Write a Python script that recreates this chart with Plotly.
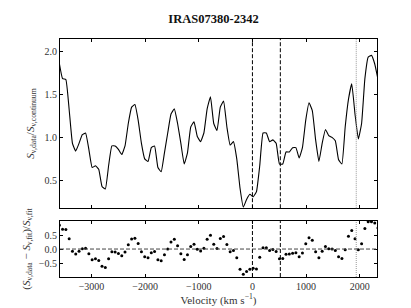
import plotly.graph_objects as go

# ---- data ----
velocity = [-3600, -3539, -3478, -3416, -3355, -3294, -3232, -3171, -3110, -3049,
            -2988, -2926, -2865, -2804, -2742, -2681, -2620, -2559, -2498, -2436,
            -2375, -2314, -2252, -2191, -2130, -2069, -2008, -1946, -1885, -1824,
            -1762, -1701, -1640, -1579, -1518, -1456, -1395, -1334, -1272, -1211,
            -1150, -1089, -1028, -966, -905, -844, -782, -721, -660, -599,
            -538, -476, -415, -354, -292, -231, -170, -109, -48, 14,
            75, 136, 198, 259, 320, 381, 442, 504, 565, 626,
            688, 749, 810, 871, 932, 994, 1055, 1116, 1178, 1239,
            1300, 1361, 1422, 1484, 1545, 1606, 1668, 1729, 1790, 1851,
            1912, 1974, 2035, 2096, 2158, 2219, 2280, 2341]

flux_ratio = [1.86, 1.68, 1.67, 1.32, 0.93, 0.84, 0.93, 1.03, 1.05, 0.86,
              0.65, 0.67, 0.63, 0.43, 0.40, 0.67, 0.90, 0.90, 0.86, 0.80,
              0.90, 1.16, 1.35, 1.38, 1.20, 0.93, 0.75, 0.72, 0.88, 0.90,
              0.65, 0.60, 0.82, 1.05, 1.27, 1.33, 1.16, 0.93, 0.69, 0.82,
              1.12, 1.18, 1.01, 0.95, 1.05, 1.33, 1.47, 1.16, 1.08, 1.35,
              1.42, 1.12, 0.91, 0.95, 0.75, 0.41, 0.19, 0.28, 0.34, 0.31,
              0.37, 0.67, 1.05, 1.05, 0.95, 0.97, 0.93, 0.69, 0.69, 0.83,
              0.83, 0.88, 0.88, 0.76, 0.88, 1.20, 1.40, 1.31, 0.97, 0.72,
              0.93, 1.09, 1.02, 1.00, 0.96, 0.74, 0.69, 1.12, 1.44, 1.62,
              1.27, 0.98, 1.16, 1.68, 1.93, 1.95, 1.85, 1.67]

residual = [0.85, 0.71, 0.70, 0.37, -0.08, -0.18, -0.08, 0.01, 0.03, -0.17,
            -0.38, -0.35, -0.41, -0.62, -0.66, -0.35, -0.10, -0.11, -0.16, -0.24,
            -0.11, 0.15, 0.36, 0.39, 0.20, -0.10, -0.28, -0.31, -0.13, -0.09,
            -0.38, -0.42, -0.20, 0.00, 0.25, 0.35, 0.12, -0.17, -0.37, -0.20,
            0.09, 0.17, -0.01, -0.07, 0.03, 0.35, 0.49, 0.17, 0.02, 0.38,
            0.45, 0.16, -0.10, -0.05, -0.31, -0.72, -0.90, -0.80, -0.72, -0.69,
            -0.71, -0.29, 0.05, 0.05, -0.05, -0.02, -0.09, -0.35, -0.34, -0.19,
            -0.18, -0.15, -0.13, -0.28, -0.14, 0.19, 0.40, 0.31, -0.10, -0.31,
            -0.08, 0.09, 0.01, 0.00, -0.05, -0.28, -0.34, -0.03, 0.46, 0.66,
            0.37, -0.03, 0.19, 0.73, 0.98, 0.98, 0.93, 0.75]

dashed_velocities = [0, 520]
dotted_velocity = 1935

x_ticks = [-3000, -2000, -1000, 0, 1000, 2000]
top_y_ticks = [0.5, 1.0, 1.5, 2.0]
bottom_y_ticks = [-0.5, 0.0, 0.5]

# ---- figure ----
FONT = "Liberation Serif"
TXT = "#333333"

fig = go.Figure()
fig.add_trace(go.Scatter(x=velocity, y=flux_ratio, mode="lines",
                         line=dict(color="black", width=1.1, shape="spline", smoothing=0.35),
                         xaxis="x", yaxis="y", showlegend=False))
fig.add_trace(go.Scatter(x=velocity, y=residual, mode="markers",
                         marker=dict(color="black", size=3),
                         xaxis="x2", yaxis="y2", showlegend=False))

shapes = []
for yref in ("y domain", "y2 domain"):
    xr = "x" if yref == "y domain" else "x2"
    for v in dashed_velocities:
        shapes.append(dict(type="line", xref=xr, yref=yref, x0=v, x1=v, y0=0, y1=1,
                           line=dict(color="black", width=1, dash="4px,2px")))
    shapes.append(dict(type="line", xref=xr, yref=yref, x0=dotted_velocity,
                       x1=dotted_velocity, y0=0, y1=1,
                       line=dict(color="#999999", width=1, dash="1px,1px")))
shapes.append(dict(type="line", xref="x2 domain", yref="y2", x0=0, x1=1, y0=0, y1=0,
                   line=dict(color="#444444", width=1, dash="4px,2px")))

xrange = [-3587, 2322]
common_axis = dict(showgrid=False, zeroline=False, showline=True, mirror="allticks",
                   linecolor="black", linewidth=1, ticks="inside", ticklen=3,
                   tickcolor="black", tickfont=dict(family=FONT, size=10, color=TXT))

fig.update_layout(
    width=411, height=308,
    margin=dict(l=52, r=42, t=31, b=32),
    paper_bgcolor="white", plot_bgcolor="white",
    font=dict(family=FONT, color=TXT),
    title=dict(text="<b>IRAS07380-2342</b>", x=0.5, xref="container", xanchor="center",
               y=1 - 11 / 308, yref="container", yanchor="middle",
               font=dict(family=FONT, size=12.5, color="#111111")),
    xaxis=dict(**common_axis, domain=[0, 1], range=xrange, anchor="y",
               tickvals=x_ticks, showticklabels=False),
    yaxis=dict(**common_axis, domain=[0.289, 1], range=[0.178, 2.14], anchor="x",
               tickvals=top_y_ticks, ticktext=["0.5", "1.0", "1.5", "2.0"],
               title=dict(text="<i>S</i><sub>ν,data</sub>/<i>S</i><sub>ν,continuum</sub>",
                          font=dict(family=FONT, size=11, color=TXT), standoff=7)),
    xaxis2=dict(**common_axis, domain=[0, 1], range=xrange, anchor="y2",
                tickvals=x_ticks,
                title=dict(text="Velocity (km s<sup>−1</sup>)",
                           font=dict(family=FONT, size=11, color=TXT), standoff=4)),
    yaxis2=dict(**common_axis, domain=[0, 0.235], range=[-1.0, 1.0], anchor="x2",
                tickvals=bottom_y_ticks, ticktext=["−0.5", "0.0", "0.5"],
                title=dict(text="(<i>S</i><sub>ν,data</sub> − <i>S</i><sub>ν,fit</sub>)/<i>S</i><sub>ν,fit</sub>",
                           font=dict(family=FONT, size=11, color=TXT), standoff=6)),
    shapes=shapes,
)

fig.write_html("out.html")
